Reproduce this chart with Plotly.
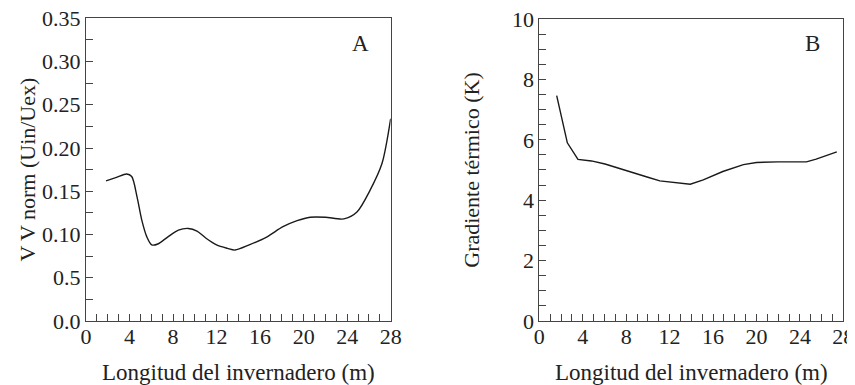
import plotly.graph_objects as go

# Panel A data
xa = [1.84, 2.8, 3.74, 4.2, 4.7, 5.12, 5.6, 6.04, 6.6, 7.5, 8.49, 9.4, 10.2, 11.0, 12.0, 13.0, 13.7, 15.0, 16.6, 18.1, 19.4, 20.6, 22.0, 23.7, 24.9, 26.1, 27.2, 28.0]
ya = [0.162, 0.166, 0.170, 0.167, 0.143, 0.117, 0.097, 0.088, 0.089, 0.097, 0.105, 0.107, 0.104, 0.096, 0.088, 0.084, 0.082, 0.088, 0.097, 0.109, 0.116, 0.120, 0.120, 0.118, 0.126, 0.151, 0.182, 0.234]

# Panel B data
xb = [1.6, 2.58, 3.56, 4.8, 6.05, 7.5, 8.97, 10.0, 11.1, 12.5, 13.9, 15.1, 16.9, 18.8, 20.0, 22.0, 24.6, 25.5, 27.4]
yb = [7.46, 5.90, 5.35, 5.30, 5.20, 5.03, 4.86, 4.76, 4.64, 4.58, 4.53, 4.67, 4.95, 5.18, 5.25, 5.27, 5.27, 5.36, 5.60]

ya_ticks = [0.0, 0.05, 0.10, 0.15, 0.20, 0.25, 0.30, 0.35]
ya_text = ["0.0", "0.5", "0.10", "0.15", "0.20", "0.25", "0.30", "0.35"]
yb_ticks = [0, 2, 4, 6, 8, 10]
x_ticks = [0, 4, 8, 12, 16, 20, 24, 28]

FONT = "Liberation Serif"
AX = "#444444"
LINE = "#1a1a1a"
TXT = "#222222"
TS = 22

fig = go.Figure()
fig.add_trace(go.Scatter(x=xa, y=ya, mode="lines", line=dict(color=LINE, width=1.4, shape="spline", smoothing=0.8),
                         xaxis="x", yaxis="y", showlegend=False))
fig.add_trace(go.Scatter(x=xb, y=yb, mode="lines", line=dict(color=LINE, width=1.4),
                         xaxis="x2", yaxis="y2", showlegend=False))

common_x = dict(range=[0, 28], tickvals=x_ticks, ticks="inside", ticklen=7, tickcolor=AX, tickwidth=1,
                showline=True, linecolor=AX, linewidth=1, mirror=True, showgrid=False, zeroline=False,
                automargin=False, ticklabelstandoff=-4, ticklabeloverflow="allow",
                minor=dict(dtick=1, ticks="inside", ticklen=7, tickcolor=AX, tickwidth=1, showgrid=False),
                tickfont=dict(family=FONT, size=TS, color=TXT),
                title=dict(text="Longitud del invernadero (m)", font=dict(family=FONT, size=TS + 1, color=TXT), standoff=16))

fig.update_layout(
    width=847, height=377,
    margin=dict(l=0, r=0, t=0, b=0),
    paper_bgcolor="white", plot_bgcolor="white",
    xaxis=dict(domain=[0.0921, 0.4518], anchor="y", **common_x),
    xaxis2=dict(domain=[0.6273, 0.9862], anchor="y2", **common_x),
    yaxis=dict(domain=[0.1698, 0.9727], anchor="x", range=[0, 0.35], tickvals=ya_ticks, ticktext=ya_text,
               ticks="inside", ticklen=7, tickcolor=AX, showline=True, linecolor=AX, linewidth=1, mirror=True,
               showgrid=False, zeroline=False, automargin=False, ticklabeloverflow="allow",
               minor=dict(tickvals=[0.025, 0.075, 0.125, 0.175, 0.225, 0.275, 0.325], ticks="inside", ticklen=7, tickcolor=AX, showgrid=False),
               tickfont=dict(family=FONT, size=TS, color=TXT),
               title=dict(text="V V norm (Uin/Uex)", font=dict(family=FONT, size=TS, color=TXT), standoff=0)),
    yaxis2=dict(domain=[0.1698, 0.9708], anchor="x2", range=[0, 10], tickvals=yb_ticks,
                ticks="inside", ticklen=7, tickcolor=AX, showline=True, linecolor=AX, linewidth=1, mirror=True,
                showgrid=False, zeroline=False, automargin=False, ticklabeloverflow="allow",
                minor=dict(dtick=0.5, ticks="inside", ticklen=7, tickcolor=AX, showgrid=False),
                tickfont=dict(family=FONT, size=TS, color=TXT),
                title=dict(text="Gradiente térmico (K)", font=dict(family=FONT, size=TS, color=TXT), standoff=26)),
    annotations=[
        dict(text="A", x=0.4156, y=0.907, xref="paper", yref="paper", xanchor="center", yanchor="middle",
             showarrow=False, font=dict(family=FONT, size=TS + 1, color=TXT)),
        dict(text="B", x=0.9504, y=0.907, xref="paper", yref="paper", xanchor="center", yanchor="middle",
             showarrow=False, font=dict(family=FONT, size=TS + 1, color=TXT)),
    ],
)

fig.write_html("out.html")
